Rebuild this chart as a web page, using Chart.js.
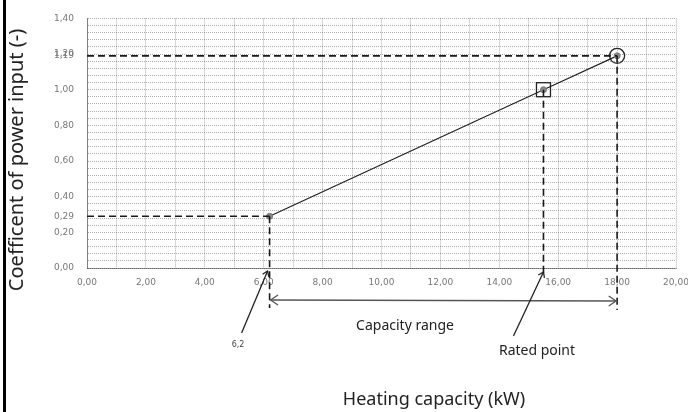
<!DOCTYPE html>
<html><head><meta charset="utf-8">
<script src="https://cdn.jsdelivr.net/npm/chart.js@4/dist/chart.umd.min.js"></script>
<style>html,body{margin:0;padding:0;background:#fff}</style>
</head><body>
<canvas id="c" width="688" height="412"></canvas>
<script>
// ---- data ----
const capacity = [6.2, 15.5, 18.0];          // kW
const powerCoef = [0.29, 1.00, 1.19];        // coefficient of power input
const xLabelValues = [0, 2, 4, 6, 8, 10, 12, 14, 16, 18, 20];
const yLabelValues = [0, 0.2, 0.4, 0.6, 0.8, 1.0, 1.2, 1.4];
const yMarkedValues = [0.29, 1.19];
const minCapacity = 6.2, ratedCapacity = 15.5, maxCapacity = 18.0;
const minCoef = 0.29, ratedCoef = 1.00, maxCoef = 1.19;

const fmt = v => v.toFixed(2).replace('.', ',');
const near = (a, b) => Math.abs(a - b) < 1e-6;

const ann = {
  id: 'ann',
  afterDraw(chart) {
    const { ctx, scales: { x, y } } = chart;
    const px = v => x.getPixelForValue(v), py = v => y.getPixelForValue(v);
    const base = py(0);
    const line = (x1, y1, x2, y2) => { ctx.beginPath(); ctx.moveTo(x1, y1); ctx.lineTo(x2, y2); ctx.stroke(); };
    const head = (tx, ty, fx, fy, len) => {
      const a = Math.atan2(ty - fy, tx - fx);
      ctx.beginPath();
      ctx.moveTo(tx - len * Math.cos(a - 0.6), ty - len * Math.sin(a - 0.6));
      ctx.lineTo(tx, ty);
      ctx.lineTo(tx - len * Math.cos(a + 0.6), ty - len * Math.sin(a + 0.6));
      ctx.stroke();
    };
    ctx.save();
    // left frame bar
    ctx.fillStyle = '#000';
    ctx.fillRect(3, 0, 3, 412);

    // dashed guides
    ctx.strokeStyle = '#1a1a1a'; ctx.lineWidth = 1.6; ctx.setLineDash([7, 4]);
    line(px(0), py(maxCoef), px(maxCapacity), py(maxCoef));
    line(px(maxCapacity), py(maxCoef), px(maxCapacity), base + 42);
    line(px(0), py(minCoef), px(minCapacity), py(minCoef));
    line(px(minCapacity), py(minCoef), px(minCapacity), base + 40);
    line(px(ratedCapacity), py(ratedCoef), px(ratedCapacity), base + 6);
    ctx.setLineDash([]);

    // capacity range double arrow
    const ay = base + 32;
    ctx.strokeStyle = '#555'; ctx.lineWidth = 1.3;
    line(px(minCapacity) + 1, ay, px(maxCapacity) - 1, ay + 1);
    head(px(minCapacity) + 1, ay, px(maxCapacity), ay, 9);
    head(px(maxCapacity) - 1, ay + 1, px(minCapacity), ay + 1, 9);

    // pointer arrows
    ctx.strokeStyle = '#222'; ctx.lineWidth = 1.3;
    const t1x = px(minCapacity) - 2, t1y = base + 3;
    line(t1x, t1y, t1x - 26, t1y + 62);
    head(t1x, t1y, t1x - 26, t1y + 62, 6);
    const t2x = px(ratedCapacity), t2y = base + 4;
    line(t2x, t2y, t2x - 30, t2y + 64);
    head(t2x, t2y, t2x - 30, t2y + 64, 6);

    // markers
    const pts = chart.getDatasetMeta(0).data;
    ctx.strokeStyle = '#222'; ctx.lineWidth = 1.3;
    const r = pts[1];
    ctx.strokeRect(r.x - 7, r.y - 7, 14, 14);
    const e = pts[2];
    ctx.beginPath(); ctx.arc(e.x, e.y, 7.5, 0, Math.PI * 2); ctx.stroke();

    // texts
    ctx.fillStyle = '#222';
    ctx.textAlign = 'center'; ctx.textBaseline = 'middle';
    ctx.font = '14px "Noto Sans"';
    ctx.fillText('Capacity range', 405, 326);
    ctx.fillText('Rated point', 537, 351);
    ctx.font = '8px "DejaVu Sans"'; ctx.fillStyle = '#444';
    ctx.fillText(String(minCapacity).replace('.', ','), 238, 345);
    ctx.fillStyle = '#222';
    ctx.font = '18px "Noto Sans"';
    ctx.fillText('Heating capacity (kW)', 434, 400);
    ctx.font = '20px "Noto Sans"';
    ctx.translate(17, 160); ctx.rotate(-Math.PI / 2);
    ctx.fillText('Coefficent of power input (-)', 0, 0);
    ctx.restore();
  }
};

new Chart(document.getElementById('c'), {
  type: 'scatter',
  data: {
    datasets: [{
      data: capacity.map((v, i) => ({ x: v, y: powerCoef[i] })),
      showLine: true,
      borderColor: '#222', borderWidth: 1.2,
      pointRadius: 3, pointBackgroundColor: '#888', pointBorderColor: '#777', pointBorderWidth: 1
    }]
  },
  options: {
    responsive: false, animation: false, devicePixelRatio: 1,
    layout: { padding: { top: 17, right: 0, left: 0, bottom: 0 } },
    plugins: { legend: { display: false }, tooltip: { enabled: false } },
    scales: {
      x: {
        type: 'linear', min: 0, max: 20,
        afterFit: s => { s.height = 144; s.paddingRight = 12; s.paddingLeft = 0; },
        afterBuildTicks: s => { s.ticks = Array.from({ length: 21 }, (_, i) => ({ value: i })); },
        ticks: {
          autoSkip: false, maxRotation: 0, padding: 9, color: '#777',
          font: { family: 'DejaVu Sans', size: 9 },
          callback: v => xLabelValues.some(l => near(l, v)) ? fmt(v) : ''
        },
        grid: { color: 'rgba(0,0,0,0.32)', lineWidth: 1, drawTicks: false },
        border: { display: true, color: 'rgba(0,0,0,0.4)', dash: [1, 1] }
      },
      y: {
        type: 'linear', min: 0, max: 1.4,
        afterFit: s => { s.width = 87; },
        afterBuildTicks: s => {
          const t = Array.from({ length: 36 }, (_, i) => ({ value: +(i * 0.04).toFixed(2) }));
          yMarkedValues.forEach(v => t.push({ value: v }));
          t.sort((a, b) => a.value - b.value);
          s.ticks = t;
        },
        ticks: {
          autoSkip: false, padding: 13, color: '#777',
          font: { family: 'DejaVu Sans', size: 9 },
          callback: v => (yLabelValues.some(l => near(l, v)) || yMarkedValues.some(l => near(l, v))) ? fmt(v) : ''
        },
        grid: {
          color: c => (c.tick && yMarkedValues.some(l => near(l, c.tick.value))) ? 'rgba(0,0,0,0)' : 'rgba(0,0,0,0.32)',
          lineWidth: 1, drawTicks: false
        },
        border: { display: true, color: 'rgba(0,0,0,0.4)', dash: [1, 1] }
      }
    }
  },
  plugins: [ann]
});
</script>
</body></html>
